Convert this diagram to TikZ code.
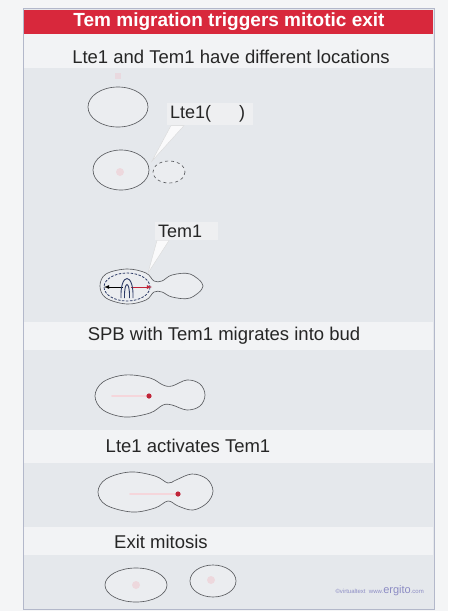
\documentclass[tikz,border=0pt]{standalone}
\usepackage{fontspec}
\setmainfont{Liberation Sans}
\usetikzlibrary{shapes,arrows,calc}
\definecolor{pagebg}{HTML}{F4F5F6}
\definecolor{panelbg}{HTML}{E5E8EC}
\definecolor{bandbg}{HTML}{F2F3F5}
\definecolor{titlered}{HTML}{D8283C}
\definecolor{framecol}{HTML}{B3B8CA}
\definecolor{cellline}{HTML}{5A5C60}
\definecolor{cellfill}{HTML}{EBEDF0}
\definecolor{nucpink}{HTML}{F0C4CC}
\definecolor{temred}{HTML}{C02438}
\definecolor{spindle}{HTML}{2C3A66}
\definecolor{labelbg}{HTML}{EEEFF1}
\definecolor{ergito}{HTML}{8C8CC4}
\tikzstyle{titletext} = [text centered, text=white, font=\bfseries\fontsize{19}{22}\selectfont]
\tikzstyle{captext} = [text centered, text=black!85, font=\fontsize{18.5}{22}\selectfont]
\tikzstyle{band} = [fill=bandbg]
\tikzstyle{cellwall} = [draw=cellline, line width=0.65pt, fill=cellfill]
\tikzstyle{tagbox} = [fill=labelbg, text=black!85, font=\fontsize{18}{21}\selectfont, inner xsep=3pt, inner ysep=3pt, align=left]
\tikzstyle{pointer} = [fill=white!80!panelbg, draw=black!15]
\tikzstyle{spot} = [fill=nucpink]
\tikzstyle{temdot} = [fill=temred]

\begin{document}
\begin{tikzpicture}[x=1pt, y=-1pt]
        \fill[pagebg] (0,0) rectangle (448,611);
        % panel, title bar and caption bands
        \draw[framecol, fill=panelbg, line width=1pt] (23,8) rectangle (434,609);
        \fill[titlered] (24,10) rectangle (433,34);
        \path[band] (24,34) rectangle (433,68);
        \path[band] (24,322) rectangle (433,350);
        \path[band] (24,430) rectangle (433,463);
        \path[band] (24,527) rectangle (433,555);
        \node[titletext] (title) at (229,22) {Tem migration triggers mitotic exit};
        \node[captext] (locations) at (231,57) {Lte1 and Tem1 have different locations};
        \node[captext] (migrates) at (224,336) {SPB with Tem1 migrates into bud};
        \node[captext] (activates) at (188,446) {Lte1 activates Tem1};
        \node[captext] (exit) at (161,542) {Exit mitosis};

        % unbudded and budded cells
        \path[spot, opacity=.4] (115,73) rectangle (121,79);
        \draw[cellwall] (118,107) ellipse [x radius=30, y radius=20];
        \draw[cellwall] (121,170) ellipse [x radius=28, y radius=20];
        \path[spot, opacity=.5] (120,172) circle [radius=4];
        \draw[cellline, line width=0.65pt, dashed, fill=cellfill] (169,172) ellipse [x radius=16, y radius=11];

        % Lte1 label
        \coordinate (lteTip) at (152,161);
        \node[tagbox, anchor=west, text width=80pt] (lteLabel) at (167,114) {Lte1(\hspace{28pt})};
        \path[pointer] ($(lteLabel.south west)+(4,0)$) -- (lteTip) -- ($(lteLabel.south west)+(17,0)$) -- cycle;

        % cell in anaphase
        \draw[cellwall] plot[smooth cycle, tension=0.6] coordinates {(100,286) (106,274) (127,269) (146,273) (154,281) (162,281) (172,275) (190,274) (203,286) (190,298) (172,297) (162,292) (154,292) (146,300) (127,304) (106,298)};
        \draw[spindle, dash pattern=on 2.5pt off 1.5pt, line width=0.8pt] (127,287) ellipse [x radius=23, y radius=14];
        \draw[-latex, black, line width=0.8pt] (123,287) -- (104,287);
        \draw[-latex, temred, line width=0.8pt] (131,287) -- (152,287);
        \draw[spindle, line width=0.9pt] (121,298) .. controls (120,272) and (134,272) .. (133,298);
        \draw[spindle, line width=0.9pt] (124.5,298) .. controls (124,280) and (130,280) .. (129.5,298);

        % Tem1 label
        \coordinate (temTip) at (148,273);
        \node[tagbox, anchor=west, text width=57pt] (temLabel) at (155,231) {Tem1};
        \path[pointer] ($(temLabel.south west)+(2,0)$) -- (temTip) -- ($(temLabel.south west)+(14,0)$) -- cycle;

        % SPB with Tem1 in the neck
        \draw[cellwall] plot[smooth cycle, tension=0.6] coordinates {(95,396) (103,382) (125,375) (150,378) (163,385) (172,386) (187,380) (200,384) (205,395) (200,406) (187,410) (172,405) (163,405) (150,413) (125,417) (103,410)};
        \draw[nucpink!70, line width=1.6pt, line cap=round] (112,396) -- (146,396);
        \path[temdot] (149,396) circle [radius=2.6];

        % SPB with Tem1 in the bud
        \draw[cellwall] plot[smooth cycle, tension=0.6] coordinates {(98,492) (106,479) (130,472) (155,476) (168,483) (176,480) (192,474) (207,479) (213,491) (207,503) (193,510) (178,506) (168,501) (155,508) (132,512) (106,505)};
        \draw[nucpink!70, line width=1.6pt, line cap=round] (130,494) -- (175,494);
        \path[temdot] (178,494) circle [radius=2.6];

        % daughter cells after mitosis
        \draw[cellwall] (136,585) ellipse [x radius=31, y radius=17];
        \path[spot, opacity=.5] (136,585) circle [radius=4];
        \draw[cellwall] (213,581) ellipse [x radius=23, y radius=16];
        \path[spot, opacity=.5] (211,580) circle [radius=4];

        \node[anchor=east, inner sep=0pt, text=ergito] (credit) at (424,591) {\fontsize{6}{7}\selectfont\textcopyright virtualtext\ \ www.\fontsize{11}{12}\selectfont ergito\fontsize{6}{7}\selectfont .com};
    \end{tikzpicture}
\end{document}
